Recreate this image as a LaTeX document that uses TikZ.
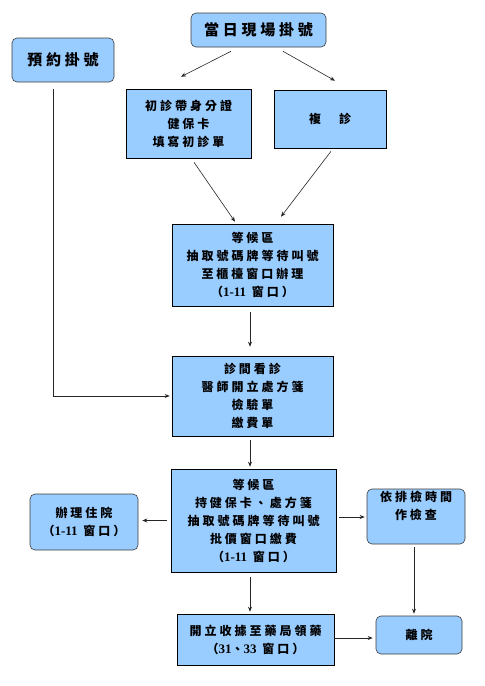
\documentclass[tikz,border=0pt]{standalone}
\usepackage{fontspec}
\usepackage{tikz}
\usetikzlibrary{arrows.meta,shapes,positioning,calc}
\usepackage{xcolor}
\newfontfamily\cjk{Noto Sans CJK TC}[LetterSpace=25]
\newfontfamily\latn{Liberation Serif}
\newcommand\wnum[1]{{\latn\bfseries\fontsize{13}{18}\selectfont #1}}
\definecolor{boxblue}{RGB}{153,204,255}
\definecolor{edgegray}{RGB}{60,60,60}
\tikzstyle{arrow} = [semithick,->,>={Stealth[length=5pt,width=4pt]},color=black!85]
\tikzstyle{plainbox} = [draw=black, semithick, fill=boxblue, align=center, inner sep=0pt,
  font=\cjk\bfseries\fontsize{12}{18}\selectfont]
\tikzstyle{roundbox} = [plainbox, draw=edgegray, rounded corners=5pt]

\begin{document}
\begin{tikzpicture}[x=1pt, y=-1pt]
\useasboundingbox (0,0) rectangle (485,686);
% Registration
\node[roundbox, minimum width=135pt, minimum height=34pt,
  font=\cjk\bfseries\fontsize{15}{18}\selectfont] (walkin) at (258.5,30) {當日現場掛號};
\node[roundbox, minimum width=102pt, minimum height=44pt,
  font=\cjk\bfseries\fontsize{15}{18}\selectfont] (appt) at (63,60) {預約掛號};

% First visit or return visit
\node[plainbox, minimum width=125pt, minimum height=69pt] (first) at (188.5,123.5)
  {初診帶身分證\\健保卡\\填寫初診單};
\node[plainbox, minimum width=112pt, minimum height=58pt] (revisit) at (330,119) {複　診};

% Waiting and consultation
\node[plainbox, minimum width=161pt, minimum height=82pt] (wait1) at (252.5,265)
  {等候區\\抽取號碼牌等待叫號\\至櫃檯窗口辦理\\（\wnum{1-11} 窗口）};
\node[plainbox, minimum width=161pt, minimum height=80pt] (clinic) at (252.5,396)
  {診間看診\\醫師開立處方箋\\檢驗單\\繳費單};
\node[plainbox, minimum width=165pt, minimum height=103pt] (wait2) at (253.5,520.5)
  {等候區\\持健保卡、處方箋\\抽取號碼牌等待叫號\\批價窗口繳費\\（\wnum{1-11} 窗口）};

% Side branches
\node[roundbox, minimum width=108pt, minimum height=56pt] (admit) at (84,522)
  {辦理住院\\（\wnum{1-11} 窗口）};
\node[roundbox, minimum width=98pt, minimum height=55pt] (exam) at (416,516.5)
  {依排檢時間\\作檢查\\[4pt]};
\node[plainbox, minimum width=157pt, minimum height=51pt] (pharm) at (255.5,639.5)
  {開立收據至藥局領藥\\（\wnum{31}、\wnum{33} 窗口）};
\node[roundbox, minimum width=86pt, minimum height=38pt] (leave) at (419,635) {離院};

% Arrows
\draw[arrow] ($(walkin.south)+(-27.5,4)$) -- ($(first.north)+(-7.5,-12)$);
\draw[arrow] ($(walkin.south)+(24.5,4)$) -- ($(revisit.north)+(5,-9)$);
\draw[arrow] ($(first.south)+(5.5,4)$) -- ($(wait1.north)+(-17.5,-2)$);
\draw[arrow] ($(revisit.south)+(1,3)$) -- ($(wait1.north)+(28.5,-7)$);
\draw[arrow, shorten <=6pt, shorten >=9pt] ([xshift=-2.5pt]wait1.south) -- ([xshift=-2.5pt]clinic.north);
\draw[arrow, shorten >=2pt] ($(appt.south)+(-10,7)$) |- (clinic.west);
\draw[arrow, shorten <=4pt, shorten >=2pt] ([xshift=-2.5pt]clinic.south) -- ([xshift=-3.5pt]wait2.north);
\draw[arrow, shorten <=4pt, shorten >=4pt] (wait2.west) -- (wait2.west -| admit.east);
\draw[arrow, shorten <=3pt, shorten >=2pt] ([yshift=3.5pt]wait2.east) -- ([yshift=3.5pt]wait2.east -| exam.west);
\draw[arrow, shorten <=5pt, shorten >=2pt] ([xshift=-3.5pt]wait2.south) -- ([xshift=-5.5pt]pharm.north);
\draw[arrow, shorten <=3pt, shorten >=2pt] ([xshift=-2pt]exam.south) -- ([xshift=-2pt]exam.south |- leave.north);
\draw[arrow, shorten >=3pt] (pharm.east |- 0,638) -- (leave.west |- 0,638);
\end{tikzpicture}
\end{document}
